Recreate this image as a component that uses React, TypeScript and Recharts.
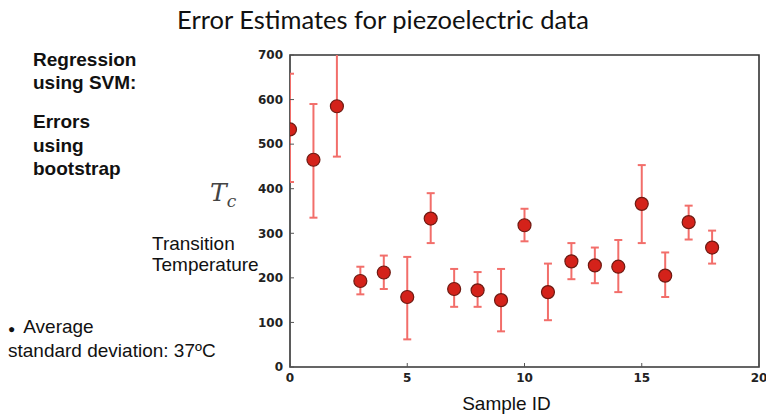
import { ScatterChart, Scatter, XAxis, YAxis, ErrorBar, ReferenceArea } from 'recharts';

const sampleIds = [0, 1, 2, 3, 4, 5, 6, 7, 8, 9, 10, 11, 12, 13, 14, 15, 16, 17, 18];
const tcValues = [533, 465, 585, 193, 212, 157, 333, 175, 172, 150, 318, 168, 237, 228, 225, 366, 205, 325, 268];
const lowBounds = [415, 335, 472, 163, 175, 62, 278, 135, 135, 80, 282, 105, 197, 188, 168, 278, 157, 286, 232];
const highBounds = [658, 590, 712, 225, 250, 247, 390, 220, 213, 220, 355, 232, 278, 268, 285, 453, 257, 362, 306];
const xTicks = [0, 5, 10, 15, 20];
const yTicks = [0, 100, 200, 300, 400, 500, 600, 700];

const data = sampleIds.map((id, i) => ({
  id,
  tc: tcValues[i],
  err: [tcValues[i] - lowBounds[i], highBounds[i] - tcValues[i]],
}));

const tickStyle = { fill: '#222', fontSize: 12, fontFamily: 'DejaVu Sans', fontWeight: 'bold' as const };

const Dot = (props: any) => (
  <circle cx={props.cx} cy={props.cy} r={6.5} fill="#d4221a" stroke="#6e1a12" strokeWidth={1.2} clipPath="url(#plot-clip)" />
);

const txt: React.CSSProperties = {
  position: 'absolute',
  fontFamily: '"Liberation Sans", Arial, sans-serif',
  color: '#111',
  whiteSpace: 'nowrap',
  margin: 0,
};

export default function App() {
  return (
    <div style={{ position: 'absolute', left: 0, top: 0, width: 766, height: 414, background: '#fff' }}>
      <style>{`.recharts-errorBar, .recharts-errorBars { clip-path: url(#plot-clip); }`}</style>
      <div style={{ ...txt, left: 0, width: 766, top: 4, textAlign: 'center', fontFamily: 'Lato', fontSize: 25.5, color: '#111' }}>
        Error Estimates for piezoelectric data
      </div>
      <div style={{ ...txt, left: 33, top: 48, fontSize: 19, fontWeight: 'bold', lineHeight: '23px' }}>
        Regression<br />using SVM:
      </div>
      <div style={{ ...txt, left: 33, top: 110, fontSize: 19, fontWeight: 'bold', lineHeight: '23.5px' }}>
        Errors<br />using<br />bootstrap
      </div>
      <div style={{ ...txt, left: 210, top: 178, fontSize: 25, fontFamily: '"DejaVu Serif", serif', fontStyle: 'italic', color: '#444' }}>
        T<span style={{ fontSize: 17, position: 'relative', top: 6 }}>c</span>
      </div>
      <div style={{ ...txt, left: 152, top: 234, fontSize: 19, lineHeight: '20.5px' }}>
        Transition<br />Temperature
      </div>
      <div style={{ ...txt, left: 8, top: 316, fontSize: 19, lineHeight: '21px' }}>
        <span style={{ fontSize: 12, marginRight: 8 }}>●</span>Average<br />standard deviation: 37ºC
      </div>
      <div style={{ ...txt, left: 272, width: 469, top: 393, textAlign: 'center', fontSize: 19 }}>
        Sample ID
      </div>
      <div style={{ position: 'absolute', left: 0, top: 0 }}>
        <ScatterChart width={766} height={414} margin={{ top: 55, right: 7, bottom: 22, left: 260 }}>
          <defs>
            <clipPath id="plot-clip" clipPathUnits="userSpaceOnUse">
              <rect x={290} y={55} width={469} height={312} />
            </clipPath>
          </defs>
          <XAxis
            xAxisId="b"
            type="number"
            dataKey="id"
            domain={[0, 20]}
            ticks={xTicks}
            allowDataOverflow
            height={25}
            tickSize={-4}
            tickMargin={10}
            tick={tickStyle}
            axisLine={false}
            tickLine={{ stroke: '#555' }}
          />
          <XAxis
            xAxisId="t"
            orientation="top"
            type="number"
            dataKey="id"
            domain={[0, 20]}
            ticks={xTicks}
            allowDataOverflow
            height={0}
            tickSize={-4}
            tick={false}
            axisLine={false}
            tickLine={{ stroke: '#555' }}
          />
          <YAxis
            yAxisId="l"
            type="number"
            dataKey="tc"
            domain={[0, 700]}
            ticks={yTicks}
            allowDataOverflow
            width={30}
            tickSize={-4}
            tickMargin={11}
            tick={tickStyle}
            axisLine={false}
            tickLine={{ stroke: '#555' }}
          />
          <YAxis
            yAxisId="r"
            orientation="right"
            type="number"
            dataKey="tc"
            domain={[0, 700]}
            ticks={yTicks}
            allowDataOverflow
            width={0}
            tickSize={-4}
            tick={false}
            axisLine={false}
            tickLine={{ stroke: '#555' }}
          />
          <Scatter
            data={data}
            xAxisId="b"
            yAxisId="l"
            dataKey="tc"
            shape={Dot}
            isAnimationActive={false}
          >
            <ErrorBar dataKey="err" direction="y" width={4} stroke="#f26e6a" strokeWidth={2} clipPath="url(#plot-clip)" isAnimationActive={false} />
          </Scatter>
          <ReferenceArea
            xAxisId="b"
            yAxisId="l"
            x1={0}
            x2={20}
            y1={0}
            y2={700}
            fill="none"
            fillOpacity={0}
            stroke="#333"
            strokeWidth={1.6}
            ifOverflow="visible"
          />
        </ScatterChart>
      </div>
    </div>
  );
}
